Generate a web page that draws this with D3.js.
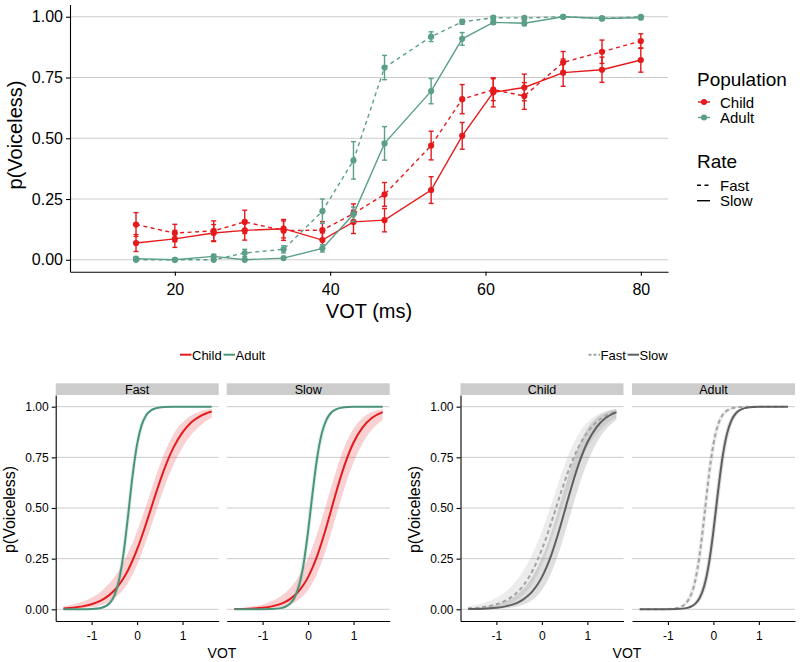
<!DOCTYPE html>
<html><head><meta charset="utf-8">
<script src="https://cdn.jsdelivr.net/npm/d3@7"></script>
<style>
body{margin:0;background:#fff}
svg{display:block}
text{font-family:"Liberation Sans",Arial,Helvetica,sans-serif;fill:#000}
</style>
</head><body>
<script>
// ---------- top chart data ----------
const vot = [15,20,25,29,34,39,43,47,53,57,61,65,70,75,80];
const childFast   = [0.145,0.110,0.119,0.156,0.120,0.122,0.190,0.269,0.470,0.661,0.700,0.674,0.812,0.856,0.900];
const childFastSE = [0.049,0.036,0.041,0.048,0.040,0.035,0.040,0.049,0.059,0.060,0.045,0.055,0.045,0.048,0.030];
const childSlow   = [0.069,0.086,0.110,0.121,0.128,0.081,0.156,0.163,0.287,0.510,0.689,0.709,0.770,0.782,0.822];
const childSlowSE = [0.035,0.035,0.035,0.040,0.038,0.030,0.048,0.048,0.055,0.055,0.060,0.055,0.056,0.052,0.050];
const adultFast   = [0.000,0.000,0.000,0.028,0.043,0.200,0.409,0.791,0.918,0.979,0.996,0.995,1.000,0.993,1.000];
const adultFastSE = [0.004,0.002,0.003,0.015,0.015,0.050,0.077,0.050,0.020,0.010,0.006,0.006,0.002,0.004,0.004];
const adultSlow   = [0.005,0.000,0.014,0.000,0.007,0.047,0.187,0.479,0.694,0.909,0.977,0.973,1.000,0.993,0.996];
const adultSlowSE = [0.006,0.002,0.008,0.002,0.006,0.015,0.030,0.069,0.052,0.026,0.008,0.010,0.002,0.004,0.006];

const yTicks = [0, 0.25, 0.5, 0.75, 1];
const topXTicks = [20, 40, 60, 80];
const bottomXTicks = [-1, 0, 1];
const populations = ["Child", "Adult"];
const rates = ["Fast", "Slow"];

// ---------- bottom chart data: fitted curves ----------
const fitX = [-1.62,-1.4,-1.2,-1.0,-0.8,-0.6,-0.5,-0.4,-0.3,-0.2,-0.1,0,0.1,0.2,0.3,0.4,0.5,0.6,0.8,1.0,1.2,1.4,1.64];
const childFastFit = [0.0045,0.0083,0.0144,0.0249,0.0427,0.0725,0.0938,0.120,0.153,0.193,0.241,0.296,0.357,0.424,0.493,0.563,0.630,0.693,0.798,0.873,0.924,0.955,0.976];
const childFastLo  = [0.0013,0.0028,0.0055,0.0106,0.0205,0.0391,0.0535,0.0727,0.0978,0.130,0.170,0.219,0.275,0.338,0.404,0.472,0.538,0.602,0.712,0.799,0.864,0.909,0.945];
const childFastHi  = [0.0149,0.0241,0.0372,0.0571,0.0870,0.131,0.159,0.193,0.233,0.278,0.329,0.386,0.448,0.514,0.582,0.649,0.713,0.771,0.863,0.923,0.958,0.978,0.990];
const childSlowFit = [0.0011,0.0021,0.0041,0.0077,0.0144,0.027,0.0368,0.050,0.0676,0.0908,0.121,0.159,0.207,0.264,0.331,0.405,0.484,0.564,0.710,0.823,0.898,0.944,0.973];
const childSlowLo  = [0.0002,0.0005,0.0011,0.0024,0.0052,0.0111,0.0161,0.0233,0.0336,0.0481,0.0681,0.0952,0.131,0.177,0.233,0.299,0.372,0.448,0.598,0.724,0.820,0.886,0.936];
const childSlowHi  = [0.0051,0.0088,0.0145,0.0240,0.0395,0.0645,0.082,0.104,0.131,0.165,0.206,0.254,0.310,0.375,0.445,0.521,0.598,0.672,0.802,0.892,0.945,0.973,0.989];
const adultFastFit = [0,0.00005,0.0002,0.0012,0.0062,0.031,0.0676,0.141,0.272,0.459,0.658,0.814,0.909,0.958,0.981,0.9915,0.9962,0.9983,0.9997,1,1,1,1];
const adultFastLo  = [0,0.00002,0.0001,0.0007,0.0039,0.0208,0.047,0.102,0.208,0.374,0.575,0.753,0.872,0.938,0.971,0.9866,0.9939,0.997,0.9993,1,1,1,1];
const adultFastHi  = [0.00002,0.0001,0.0004,0.0021,0.0098,0.0459,0.0963,0.192,0.348,0.546,0.733,0.863,0.935,0.971,0.987,0.9946,0.9977,0.999,0.9998,1,1,1,1];
const adultSlowFit = [0,0.00001,0.00005,0.00026,0.0012,0.0058,0.0125,0.0269,0.0569,0.116,0.223,0.385,0.577,0.749,0.867,0.934,0.969,0.9854,0.9969,0.9994,0.9999,1,1];
const adultSlowLo  = [0,0,0.00002,0.00014,0.0007,0.0036,0.008,0.0178,0.0391,0.0831,0.167,0.306,0.490,0.676,0.818,0.906,0.953,0.9774,0.9948,0.9988,0.9998,1,1];
const adultSlowHi  = [0,0.00003,0.0001,0.00048,0.0021,0.0093,0.0195,0.0403,0.0821,0.160,0.291,0.471,0.660,0.810,0.904,0.954,0.979,0.9906,0.9981,0.9996,1,1,1];

// ---------- styling ----------
const RED = "#e41a1c", GREEN_TOP = "#5b9f89", GREEN = "#4a957a";
const GRID = "#cccccc";
const FONT = '"Liberation Sans",Arial,Helvetica,sans-serif';

const svg = d3.select("body").append("svg").attr("width", 800).attr("height", 662);

// ================= TOP CHART =================
const gTop = svg.append("g");
const x = d3.scaleLinear().domain([6.5, 83.5]).range([70, 668]);
const y = d3.scaleLinear().domain([-0.049, 1.05]).range([271.7, 4.6]);

gTop.append("g").selectAll("line").data(yTicks).join("line")
  .attr("x1", 70).attr("x2", 668)
  .attr("y1", d => y(d)).attr("y2", d => y(d))
  .attr("stroke", GRID).attr("stroke-width", 1.1);

const topSeries = [
  {pop: "Child", rate: "Fast", vals: childFast, se: childFastSE, color: RED},
  {pop: "Child", rate: "Slow", vals: childSlow, se: childSlowSE, color: RED},
  {pop: "Adult", rate: "Fast", vals: adultFast, se: adultFastSE, color: GREEN_TOP},
  {pop: "Adult", rate: "Slow", vals: adultSlow, se: adultSlowSE, color: GREEN_TOP}
];

const lineTop = d3.line().x((d, i) => x(vot[i])).y(d => y(d));
topSeries.forEach(s => {
  const g = gTop.append("g");
  g.append("path").datum(s.vals).attr("d", lineTop)
    .attr("fill", "none").attr("stroke", s.color).attr("stroke-width", 1.4)
    .attr("stroke-dasharray", s.rate === "Fast" ? "4,3.5" : null);
  const eb = g.append("g").attr("stroke", s.color).attr("stroke-width", 1.4);
  s.vals.forEach((v, i) => {
    const cx = x(vot[i]), y0 = y(v - s.se[i]), y1 = y(v + s.se[i]);
    eb.append("line").attr("x1", cx).attr("x2", cx).attr("y1", y0).attr("y2", y1);
    eb.append("line").attr("x1", cx - 2.5).attr("x2", cx + 2.5).attr("y1", y0).attr("y2", y0);
    eb.append("line").attr("x1", cx - 2.5).attr("x2", cx + 2.5).attr("y1", y1).attr("y2", y1);
  });
  g.append("g").selectAll("circle").data(s.vals).join("circle")
    .attr("cx", (d, i) => x(vot[i])).attr("cy", d => y(d)).attr("r", 3.1)
    .attr("fill", s.color);
});

const yAxTop = gTop.append("g").attr("transform", "translate(70,0)")
  .call(d3.axisLeft(y).tickValues(yTicks).tickFormat(d3.format(".2f")).tickSize(4).tickSizeOuter(0));
const xAxTop = gTop.append("g").attr("transform", "translate(0,271.7)")
  .call(d3.axisBottom(x).tickValues(topXTicks).tickFormat(d => String(d)).tickSize(4).tickSizeOuter(0));
[yAxTop, xAxTop].forEach(a => {
  a.selectAll("text").attr("font-size", 16).attr("fill", "#000").attr("font-family", FONT);
  a.selectAll("path,line").attr("stroke", "#000").attr("stroke-width", 1.1);
});
xAxTop.selectAll("text").attr("dy", "1.05em");

gTop.append("text").attr("transform", "translate(22,135) rotate(-90)")
  .attr("text-anchor", "middle").attr("font-size", 20).text("p(Voiceless)");
gTop.append("text").attr("x", 369).attr("y", 318)
  .attr("text-anchor", "middle").attr("font-size", 20).text("VOT (ms)");

// top legend
const lg = gTop.append("g");
lg.append("text").attr("x", 697).attr("y", 86).attr("font-size", 19).text("Population");
populations.forEach((p, i) => {
  const cy = 102 + i * 15.5;
  const c = p === "Child" ? RED : GREEN_TOP;
  lg.append("line").attr("x1", 698).attr("x2", 710).attr("y1", cy).attr("y2", cy)
    .attr("stroke", c).attr("stroke-width", 1.4);
  lg.append("circle").attr("cx", 704).attr("cy", cy).attr("r", 3).attr("fill", c);
  lg.append("text").attr("x", 720).attr("y", cy + 5.5).attr("font-size", 15).text(p);
});
lg.append("text").attr("x", 697).attr("y", 168).attr("font-size", 19).text("Rate");
rates.forEach((r, i) => {
  const cy = 185.2 + i * 15.5;
  lg.append("line").attr("x1", 697).attr("x2", 710).attr("y1", cy).attr("y2", cy)
    .attr("stroke", "#000").attr("stroke-width", 1.4)
    .attr("stroke-dasharray", r === "Fast" ? "4,3.5" : null);
  lg.append("text").attr("x", 720).attr("y", cy + 5.5).attr("font-size", 15).text(r);
});

// ================= BOTTOM CHARTS =================
const by = d3.scaleLinear().domain([-0.0577, 1.0577]).range([621, 395]);
const PW = 163;

const models = {
  CF: {fit: childFastFit, lo: childFastLo, hi: childFastHi},
  CS: {fit: childSlowFit, lo: childSlowLo, hi: childSlowHi},
  AF: {fit: adultFastFit, lo: adultFastLo, hi: adultFastHi},
  AS: {fit: adultSlowFit, lo: adultSlowLo, hi: adultSlowHi}
};

const panels = [
  {left: 55.7, strip: "Fast", yaxis: true, curves: [
    {m: "CF", color: RED, fill: "rgba(228,26,28,0.2)", dash: null},
    {m: "AF", color: GREEN, fill: "rgba(74,149,122,0.15)", dash: null}]},
  {left: 226.7, strip: "Slow", yaxis: false, curves: [
    {m: "CS", color: RED, fill: "rgba(228,26,28,0.2)", dash: null},
    {m: "AS", color: GREEN, fill: "rgba(74,149,122,0.15)", dash: null}]},
  {left: 460.5, strip: "Child", yaxis: true, curves: [
    {m: "CF", color: "#a3a3a3", fill: "rgba(160,160,160,0.2)", dash: "4,3"},
    {m: "CS", color: "#5f5f5f", fill: "rgba(95,95,95,0.2)", dash: null}]},
  {left: 632, strip: "Adult", yaxis: false, curves: [
    {m: "AF", color: "#a3a3a3", fill: "rgba(160,160,160,0.2)", dash: "4,3"},
    {m: "AS", color: "#5f5f5f", fill: "rgba(95,95,95,0.2)", dash: null}]}
];

const idx = d3.range(fitX.length);
panels.forEach(p => {
  const g = svg.append("g");
  const bx = d3.scaleLinear().domain([-1.79, 1.795]).range([p.left, p.left + PW]);
  g.append("rect").attr("x", p.left).attr("y", 383.3).attr("width", PW).attr("height", 11.7)
    .attr("fill", "#cccccc");
  g.append("text").attr("x", p.left + PW / 2).attr("y", 393.6).attr("text-anchor", "middle")
    .attr("font-size", 12.5).text(p.strip);
  g.append("g").selectAll("line").data(yTicks).join("line")
    .attr("x1", p.left).attr("x2", p.left + PW)
    .attr("y1", d => by(d)).attr("y2", d => by(d))
    .attr("stroke", GRID).attr("stroke-width", 1);
  p.curves.forEach(c => {
    const m = models[c.m];
    const area = d3.area().x(i => bx(fitX[i])).y0(i => by(m.lo[i])).y1(i => by(m.hi[i]))
      .curve(d3.curveMonotoneX);
    g.append("path").datum(idx).attr("d", area).attr("fill", c.fill).attr("stroke", "none");
  });
  p.curves.forEach(c => {
    const m = models[c.m];
    const line = d3.line().x(i => bx(fitX[i])).y(i => by(m.fit[i])).curve(d3.curveMonotoneX);
    g.append("path").datum(idx).attr("d", line).attr("fill", "none")
      .attr("stroke", c.color).attr("stroke-width", 2)
      .attr("stroke-dasharray", c.dash);
  });
  const xa = g.append("g").attr("transform", "translate(0,621)")
    .call(d3.axisBottom(bx).tickValues(bottomXTicks).tickFormat(d => String(d)).tickSize(4).tickSizeOuter(0));
  xa.selectAll("text").attr("font-size", 12).attr("fill", "#000").attr("dy", "1.0em").attr("font-family", FONT);
  xa.selectAll("path,line").attr("stroke", "#000").attr("stroke-width", 1.1);
  if (p.yaxis) {
    const ya = g.append("g").attr("transform", `translate(${p.left},0)`)
      .call(d3.axisLeft(by).tickValues(yTicks).tickFormat(d3.format(".2f")).tickSize(4).tickSizeOuter(0));
    ya.selectAll("text").attr("font-size", 12).attr("fill", "#000").attr("font-family", FONT);
    ya.selectAll("path,line").attr("stroke", "#000").attr("stroke-width", 1.1);
    g.append("text").attr("transform", `translate(${p.left - 41},509.5) rotate(-90)`)
      .attr("text-anchor", "middle").attr("font-size", 16).text("p(Voiceless)");
  }
});

svg.append("text").attr("x", 222).attr("y", 658).attr("text-anchor", "middle").attr("font-size", 14).text("VOT");
svg.append("text").attr("x", 627).attr("y", 658).attr("text-anchor", "middle").attr("font-size", 14).text("VOT");

const bl = svg.append("g");
[{lab: "Child", c: RED, x0: 180}, {lab: "Adult", c: GREEN, x0: 223.5}].forEach(d => {
  bl.append("line").attr("x1", d.x0).attr("x2", d.x0 + 11.5).attr("y1", 354.7).attr("y2", 354.7)
    .attr("stroke", d.c).attr("stroke-width", 2);
  bl.append("text").attr("x", d.x0 + 12).attr("y", 359.5).attr("font-size", 13).text(d.lab);
});
const br = svg.append("g");
[{lab: "Fast", c: "#a3a3a3", dash: "3,2", x0: 588.5}, {lab: "Slow", c: "#5f5f5f", dash: null, x0: 627.5}].forEach(d => {
  br.append("line").attr("x1", d.x0).attr("x2", d.x0 + 11.5).attr("y1", 354.7).attr("y2", 354.7)
    .attr("stroke", d.c).attr("stroke-width", 2).attr("stroke-dasharray", d.dash);
  br.append("text").attr("x", d.x0 + 12).attr("y", 359.5).attr("font-size", 13).text(d.lab);
});
</script>
</body></html>
